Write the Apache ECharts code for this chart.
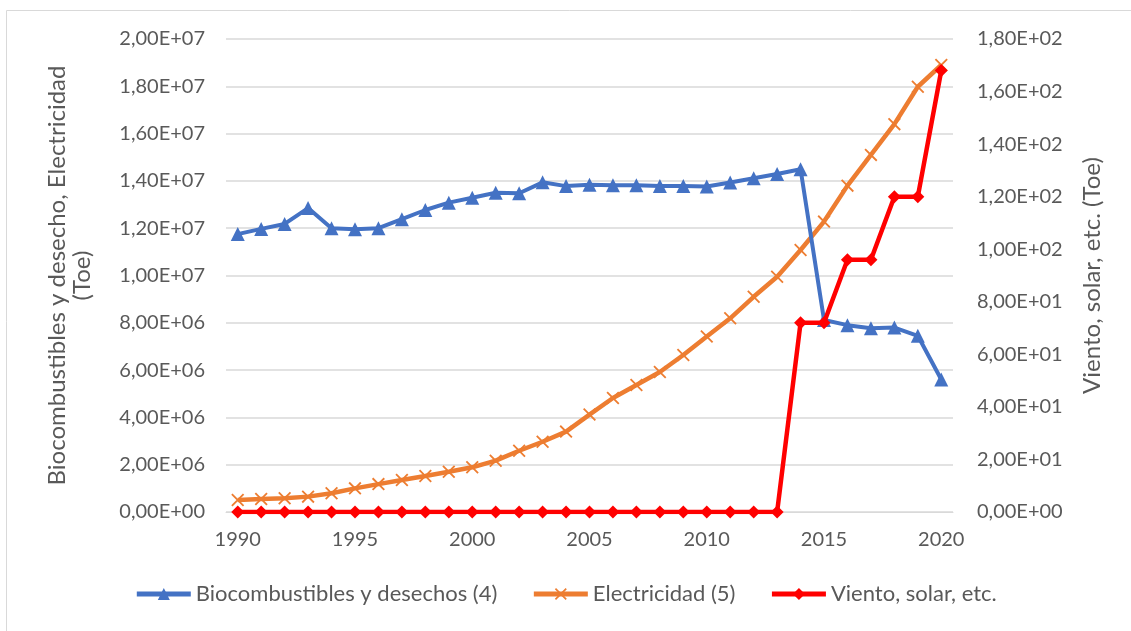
<!DOCTYPE html>
<html>
<head>
<meta charset="utf-8">
<script src="https://cdn.jsdelivr.net/npm/echarts@6/dist/echarts.min.js"></script>
<style>
    html, body { margin: 0; padding: 0; background: #fff; }
    #chart { width: 1131px; height: 631px; }
</style>
</head>
<body>
<div id="chart"></div>
<script>
    // años del eje x
    var years = [];
    for (var y = 1990; y <= 2020; y++) years.push(String(y));

    var bioData = [11.75e6, 11.97e6, 12.18e6, 12.85e6, 12.0e6, 11.96e6, 12.0e6, 12.38e6, 12.77e6, 13.08e6,
        13.29e6, 13.5e6, 13.48e6, 13.94e6, 13.78e6, 13.84e6, 13.82e6, 13.82e6, 13.78e6, 13.78e6,
        13.76e6, 13.93e6, 14.11e6, 14.29e6, 14.49e6, 8.12e6, 7.9e6, 7.77e6, 7.8e6, 7.45e6, 5.6e6];

    var elecData = [0.51e6, 0.55e6, 0.58e6, 0.65e6, 0.79e6, 1.0e6, 1.18e6, 1.35e6, 1.52e6, 1.7e6,
        1.89e6, 2.17e6, 2.59e6, 2.97e6, 3.4e6, 4.12e6, 4.82e6, 5.37e6, 5.92e6, 6.64e6,
        7.42e6, 8.19e6, 9.1e6, 9.95e6, 11.08e6, 12.28e6, 13.8e6, 15.1e6, 16.4e6, 17.98e6, 18.9e6];

    var vientoData = [0, 0, 0, 0, 0, 0, 0, 0, 0, 0,
        0, 0, 0, 0, 0, 0, 0, 0, 0, 0,
        0, 0, 0, 0, 72, 72, 96, 96, 120, 120, 168];

    var seriesNames = ['Biocombustibles y desechos (4)', 'Electricidad (5)', 'Viento, solar, etc.'];

    // formato tipo Excel: 1,80E+07
    function sci(v) {
        if (v === 0) return '0,00E+00';
        var e = Math.floor(Math.log10(v) + 1e-9);
        var m = v / Math.pow(10, e);
        return m.toFixed(2).replace('.', ',') + 'E+' + (e < 10 ? '0' : '') + e;
    }

    var font = 'Lato';
    var txt = '#595959';
    var fs = 20;
    var crossIcon = 'path://M0,1 L1,0 L10,9 L9,10 Z M9,0 L10,1 L1,10 L0,9 Z';

    var chart = echarts.init(document.getElementById('chart'));
    chart.setOption({
        animation: false,
        textStyle: { fontFamily: font },
        graphic: [{
            type: 'rect',
            shape: { x: 6.5, y: 10.5, width: 1200, height: 700 },
            style: { fill: 'none', stroke: '#d9d9d9', lineWidth: 1 },
            silent: true
        }],
        grid: {
            left: 226,
            right: 178,
            top: 39,
            bottom: 119
        },
        legend: {
            bottom: 21,
            left: 'center',
            itemWidth: 54,
            itemHeight: 15,
            itemGap: 34,
            lineStyle: { width: 5 },
            textStyle: { color: txt, fontSize: 22, fontFamily: font },
            data: seriesNames
        },
        xAxis: {
            type: 'category',
            boundaryGap: true,
            data: years,
            axisLine: { lineStyle: { color: '#d9d9d9', width: 1 } },
            axisTick: { show: false },
            axisLabel: { interval: 4, color: txt, fontSize: fs, margin: 18 }
        },
        yAxis: [
            {
                type: 'value',
                min: 0,
                max: 2e7,
                interval: 2e6,
                name: 'Biocombustibles y desecho, Electricidad\n(Toe)',
                nameLocation: 'middle',
                nameRotate: 90,
                nameGap: 131,
                nameTextStyle: { color: txt, fontSize: 24, lineHeight: 25 },
                axisLine: { show: false },
                axisTick: { show: false },
                axisLabel: { color: txt, fontSize: fs, margin: 21, formatter: sci },
                splitLine: { lineStyle: { color: '#d9d9d9', width: 1.5 } }
            },
            {
                type: 'value',
                min: 0,
                max: 180,
                interval: 20,
                name: 'Viento, solar, etc. (Toe)',
                nameLocation: 'middle',
                nameRotate: 90,
                nameGap: 127,
                nameTextStyle: { color: txt, fontSize: 24 },
                axisLine: { show: false },
                axisTick: { show: false },
                axisLabel: { color: txt, fontSize: fs, margin: 24, formatter: sci },
                splitLine: { show: false }
            }
        ],
        series: [
            {
                name: seriesNames[0],
                type: 'line',
                yAxisIndex: 0,
                data: bioData,
                symbol: 'triangle',
                symbolSize: 14,
                lineStyle: { color: '#4472c4', width: 4 },
                itemStyle: { color: '#4472c4' },
                z: 3
            },
            {
                name: seriesNames[1],
                type: 'line',
                yAxisIndex: 0,
                data: elecData,
                symbol: crossIcon,
                symbolSize: 13,
                lineStyle: { color: '#ed7d31', width: 4.5 },
                itemStyle: { color: '#ed7d31' },
                z: 2
            },
            {
                name: seriesNames[2],
                type: 'line',
                yAxisIndex: 1,
                data: vientoData,
                symbol: 'diamond',
                symbolSize: 13,
                lineStyle: { color: '#ff0000', width: 4.5 },
                itemStyle: { color: '#ff0000' },
                z: 4
            }
        ]
    });
</script>
</body>
</html>
